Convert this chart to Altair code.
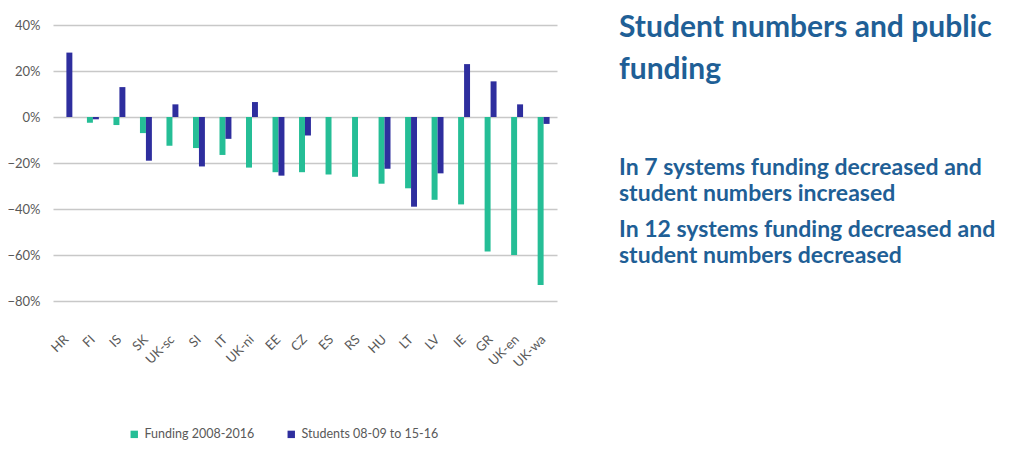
import altair as alt
import pandas as pd

countries = ["HR", "FI", "IS", "SK", "UK-sc", "SI", "IT", "UK-ni", "EE", "CZ",
             "ES", "RS", "HU", "LT", "LV", "IE", "GR", "UK-en", "UK-wa"]
funding = [0, -2.5, -3.5, -7, -12.5, -13.5, -16.5, -22, -24, -24,
           -25, -26, -29, -31, -36, -38, -58.5, -60, -73]
students = [28, -1, 13, -19, 5.5, -21.5, -9.5, 6.5, -25.5, -8,
            None, None, -22.5, -39, -24.5, 23, 15.5, 5.5, -3]
series_names = ["Funding 2008-2016", "Students 08-09 to 15-16"]
series_colors = ["#25be96", "#2e2e9e"]

title_lines = ["Student numbers and public", "funding"]
note_lines = ["In 7 systems funding decreased and", "student numbers increased",
              "In 12 systems funding decreased and", "student numbers decreased"]

rows = []
for c, f, s in zip(countries, funding, students):
    rows.append({"country": c, "series": series_names[0], "value": f / 100})
    if s is not None:
        rows.append({"country": c, "series": series_names[1], "value": s / 100})
df = pd.DataFrame(rows)

FONT = "Lato"
W, H = 504, 276

bars = alt.Chart(df).mark_bar().encode(
    x=alt.X("country:N", sort=countries, title=None,
            scale=alt.Scale(paddingInner=0.55, paddingOuter=0.28),
            axis=alt.Axis(labelAngle=315, labelAlign="right", labelBaseline="middle",
                          labelPadding=36, labelFontSize=13, labelColor="#595959",
                          labelFont=FONT, ticks=False, domain=False, grid=False)),
    xOffset=alt.XOffset("series:N", sort=series_names),
    y=alt.Y("value:Q", title=None,
            scale=alt.Scale(domain=[-0.8, 0.4], nice=False),
            axis=alt.Axis(values=[-0.8, -0.6, -0.4, -0.2, 0, 0.2, 0.4], format=".0%",
                          labelFontSize=13, labelColor="#595959", labelFont=FONT,
                          labelPadding=13, ticks=False, domain=False,
                          grid=True, gridColor="#c8c8c8", gridWidth=1.6)),
    color=alt.Color("series:N", sort=series_names,
                    scale=alt.Scale(domain=series_names, range=series_colors),
                    legend=alt.Legend(title=None, orient="none", direction="horizontal",
                                      legendX=75, legendY=403, symbolType="square",
                                      symbolSize=55, symbolStrokeWidth=0,
                                      labelFontSize=12.5, labelColor="#595959",
                                      labelFont=FONT, columnPadding=30,
                                      symbolOffset=0)),
)

tdf = pd.DataFrame({"line": title_lines, "ypos": [12, 54]})
title = alt.Chart(tdf).mark_text(
    align="left", baseline="alphabetic", fontSize=30, fontWeight="bold",
    color="#1f5f96", font=FONT
).encode(x=alt.value(566), y=alt.Y("ypos:Q", scale=None), text="line:N")

ndf = pd.DataFrame({"line": note_lines, "ypos": [150, 176, 212, 238]})
notes = alt.Chart(ndf).mark_text(
    align="left", baseline="alphabetic", fontSize=23, fontWeight="bold",
    color="#1f5f96", font=FONT
).encode(x=alt.value(566), y=alt.Y("ypos:Q", scale=None), text="line:N")

chart = alt.layer(bars, title, notes).properties(
    width=W, height=H,
    background="white",
    autosize=alt.AutoSizeParams(type="none"),
    padding={"left": 45, "top": 17, "right": 448, "bottom": 144},
).configure_view(strokeWidth=0).configure_axisX(grid=False, gridOpacity=0)

chart.save("out.html", embed_options={"renderer": "svg", "actions": False})
